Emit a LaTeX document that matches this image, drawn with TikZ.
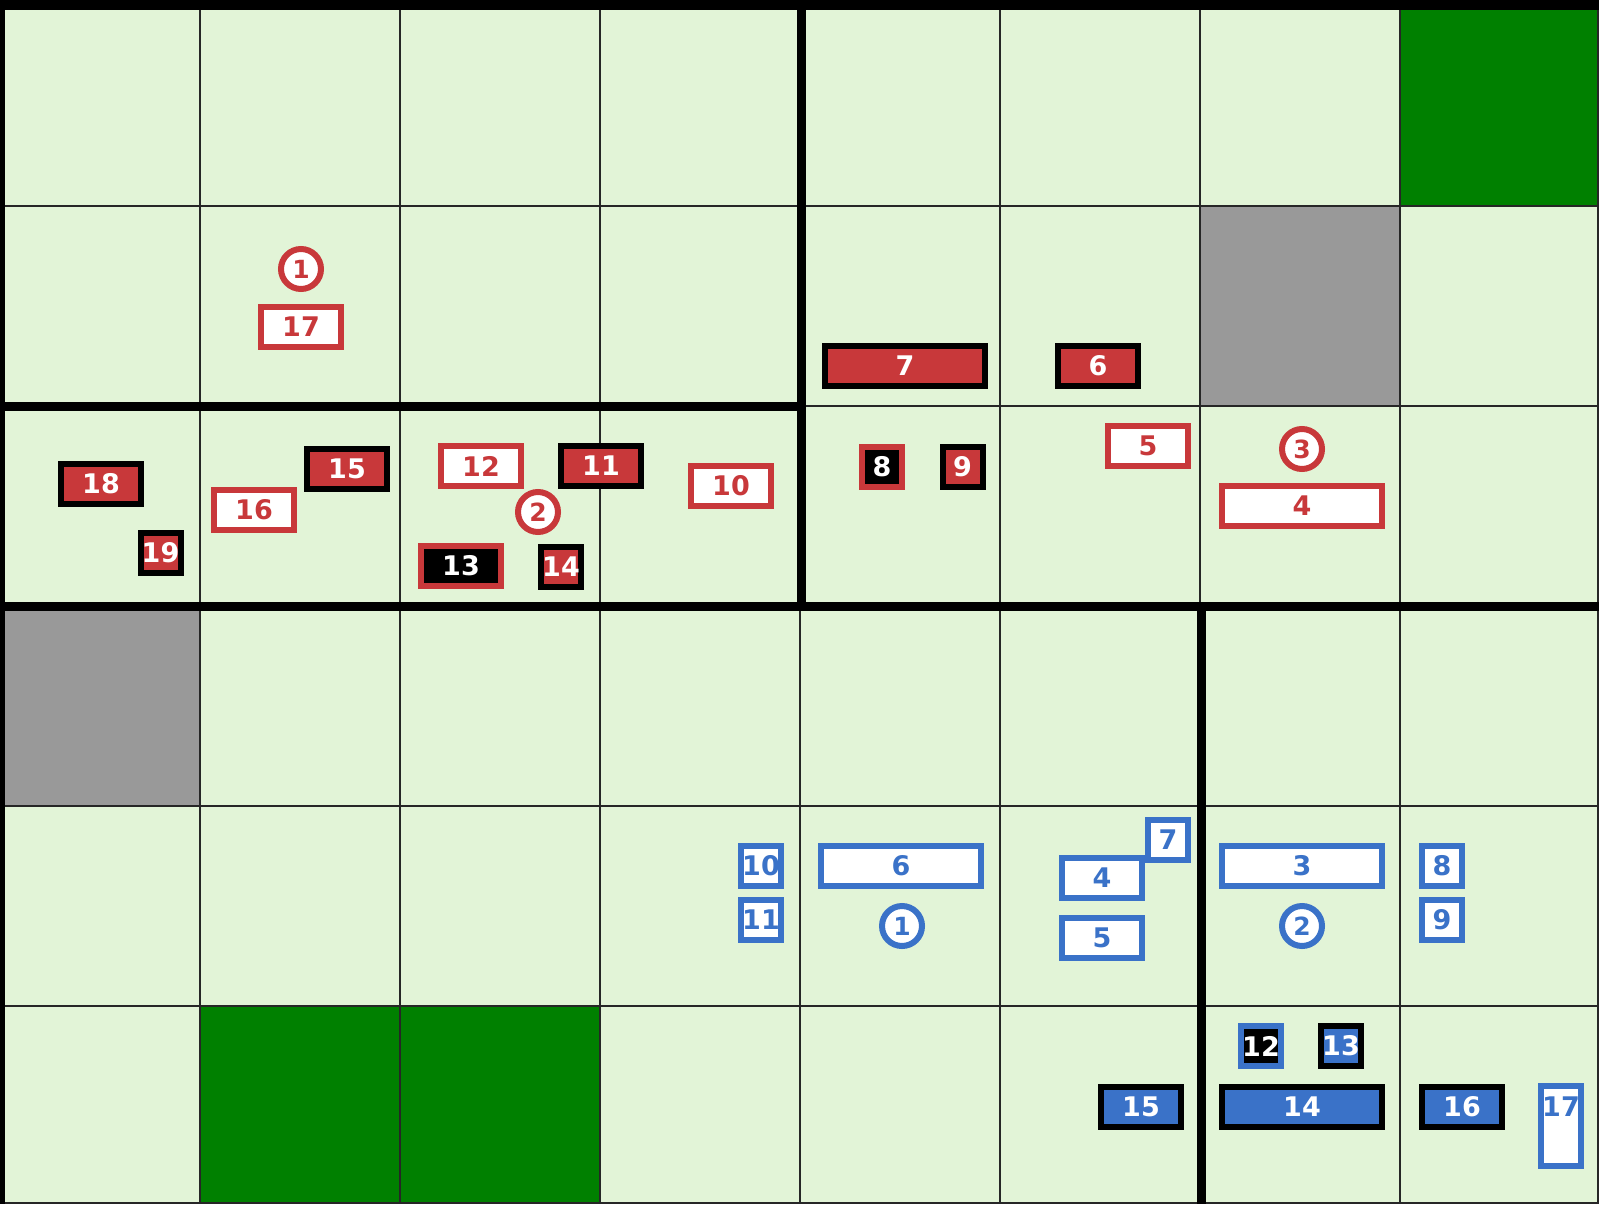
\documentclass[tikz,border=0pt]{standalone}
\usepackage{fontspec}
\setmainfont{DejaVu Sans}
\definecolor{cred}{HTML}{C8383A}
\definecolor{cblue}{HTML}{3A72C8}
\definecolor{cgreen}{HTML}{E2F4D7}
\definecolor{dgreen}{HTML}{008000}
\definecolor{cgray}{HTML}{999999}
\begin{document}
\begin{tikzpicture}[x=0.5pt,y=-0.5pt,
  box/.style={rectangle, line width=3pt, inner sep=0pt, font=\bfseries\fontsize{13.5}{16}\selectfont},
  sm/.style={minimum width=20pt, minimum height=20pt},
  md/.style={minimum width=40pt, minimum height=20pt},
  wd/.style={minimum width=80pt, minimum height=20pt},
  tl/.style={minimum width=20pt, minimum height=40pt},
  rw/.style={box, draw=cred, fill=white, text=cred},
  rr/.style={box, draw=black, fill=cred, text=white},
  rk/.style={box, draw=cred, fill=black, text=white},
  bw/.style={box, draw=cblue, fill=white, text=cblue},
  bb/.style={box, draw=black, fill=cblue, text=white},
  bk/.style={box, draw=cblue, fill=black, text=white},
  circ/.style={circle, line width=3pt, fill=white, minimum size=20pt, inner sep=0pt, font=\bfseries\fontsize{12.5}{15}\selectfont},
  rc/.style={circ, draw=cred, text=cred},
  bc/.style={circ, draw=cblue, text=cblue},
  gthin/.style={line width=1pt, draw=black!85},
  gthick/.style={line width=4.5pt, draw=black}]
\useasboundingbox (0,0) rectangle (1599,1204);
\begin{scope}
\clip (0,0) rectangle (1599,1204);
\fill[cgreen] (0,0) rectangle (1599,1204);
\fill[dgreen] (1400,0) rectangle (1600,206);
\fill[dgreen] (200,1006) rectangle (600,1204);
\fill[cgray] (1200,206) rectangle (1400,406);
\fill[cgray] (0,606) rectangle (200,806);
\foreach \x in {200,400,...,1400} \draw[gthin] (\x,0) -- (\x,1204);
\foreach \y in {206,406,606,806,1006} \draw[gthin] (0,\y) -- (1599,\y);
\draw[gthin] (1598,0) -- (1598,1204);
\draw[gthin] (0,1203) -- (1599,1203);
\draw[gthick,line width=5pt] (0,5) -- (1599,5);
\draw[gthick,line width=5pt] (0,0) -- (0,1204);
\draw[gthick] (801,0) -- (801,608.25);
\draw[gthick] (0,406) -- (803.25,406);
\draw[gthick] (0,606) -- (1599,606);
\draw[gthick] (1201,603.75) -- (1201,1204);
\end{scope}
% red pieces
\node[rc] (c1) at (301,269) {1};
\node[rw,md] (r17) at (301,327) {17};
\node[rr,wd] (r7) at (905,366) {7};
\node[rr,md] (r6) at (1098,366) {6};
\node[rr,md] (r18) at (101,484) {18};
\node[rr,sm] (r19) at (160.5,553) {19};
\node[rw,md] (r16) at (254,509.5) {16};
\node[rr,md] (r15) at (347,469) {15};
\node[rw,md] (r12) at (481,466) {12};
\node[rr,md] (r11) at (601,466) {11};
\node[rc] (c2) at (538,512) {2};
\node[rk,md] (r13) at (461,566) {13};
\node[rr,sm] (r14) at (561,567) {14};
\node[rw,md] (r10) at (731,486) {10};
\node[rk,sm] (r8) at (882,467) {8};
\node[rr,sm] (r9) at (962.5,467) {9};
\node[rw,md] (r5) at (1148,446) {5};
\node[rc] (c3) at (1302,449) {3};
\node[rw,wd] (r4) at (1302,506) {4};
% blue pieces
\node[bw,sm] (b10) at (761,866) {10};
\node[bw,sm] (b11) at (761,920) {11};
\node[bw,wd] (b6) at (901,866) {6};
\node[bc] (bc1) at (902,926) {1};
\node[bw,md] (b4) at (1102,878) {4};
\node[bw,md] (b5) at (1102,938) {5};
\node[bw,sm] (b7) at (1168,840) {7};
\node[bw,wd] (b3) at (1302,866) {3};
\node[bc] (bc2) at (1302,926) {2};
\node[bw,sm] (b8) at (1442,866) {8};
\node[bw,sm] (b9) at (1442,920) {9};
\node[bk,sm] (b12) at (1261,1046) {12};
\node[bb,sm] (b13) at (1341,1046) {13};
\node[bb,md] (b15) at (1141,1107) {15};
\node[bb,wd] (b14) at (1302,1107) {14};
\node[bb,md] (b16) at (1462,1107) {16};
\node[bw,tl] (b17) at (1561,1126) {};
\node[box,text=cblue] (b17t) at (1561,1107) {17};
\end{tikzpicture}
\end{document}
